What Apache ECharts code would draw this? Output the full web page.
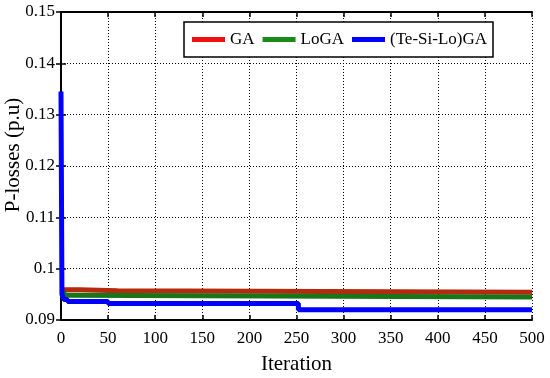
<!DOCTYPE html>
<html><head><meta charset="utf-8">
<script src="https://cdn.jsdelivr.net/npm/echarts@6/dist/echarts.min.js"></script>
<style>html,body{margin:0;padding:0;background:#fff}#c{width:550px;height:378px}</style>
</head><body><div id="c"></div>
<script>
const seriesNames = ['GA', 'LoGA', '(Te-Si-Lo)GA'];
// step breakpoints: value holds from this iteration until the next breakpoint
const gaIter = [0, 20, 60, 500];
const gaVal = [0.0959, 0.0957, 0.0954, 0.0954];
const logaIter = [0, 3, 8, 500];
const logaVal = [0.0955, 0.0948, 0.0945, 0.0945];
const tsIter = [0, 1, 3, 7, 50, 252, 500];
const tsVal = [0.1345, 0.0950, 0.0940, 0.0936, 0.0932, 0.0920, 0.0920];
const xTicks = {min: 0, max: 500, interval: 50};
const yTicks = {min: 0.09, max: 0.15, interval: 0.01};

const font = 'Liberation Serif';
const lineColors = ['#b52a0c', '#1a751a', '#0000ff'];
const legendColors = ['#f01010', '#1a8a1a', '#0000ff'];
function pairs(xs, ys){ return xs.map((x,i)=>[x, ys[i]]); }
const chart = echarts.init(document.getElementById('c'));
const gridLine = {show:true, lineStyle:{color:'#000', type:[1,2], width:1}};
chart.setOption({
  animation:false,
  grid:{left:61, right:18, top:12, bottom:58, containLabel:false, outerBoundsMode:'none'},
  legend:{
    left:184, top:22, orient:'horizontal',
    backgroundColor:'#fff', borderColor:'#000', borderWidth:1.5, borderRadius:0,
    padding:[9,6,9,8], itemGap:8, itemWidth:33, itemHeight:5, icon:'rect',
    textStyle:{fontFamily:font, fontSize:17, color:'#000'},
    data: seriesNames.map((n,i)=>({name:n, itemStyle:{color:legendColors[i]}}))
  },
  xAxis:[{
    type:'value', min:xTicks.min, max:xTicks.max, interval:xTicks.interval,
    name:'Iteration', nameLocation:'middle', nameGap:34, nameMoveOverlap:false,
    nameTextStyle:{fontFamily:font, fontSize:21, color:'#000'},
    axisLine:{lineStyle:{color:'#000', width:2}},
    axisTick:{inside:true, length:5, lineStyle:{color:'#000', width:1.5}},
    axisLabel:{fontFamily:font, fontSize:17, color:'#000', margin:10},
    splitLine:gridLine
  },{
    type:'value', position:'top', min:xTicks.min, max:xTicks.max, interval:xTicks.interval,
    axisLine:{show:true, lineStyle:{color:'#000', width:2}},
    axisTick:{inside:true, length:5, lineStyle:{color:'#000', width:1.5}},
    axisLabel:{show:false}, splitLine:{show:false}
  }],
  yAxis:[{
    type:'value', min:yTicks.min, max:yTicks.max, interval:yTicks.interval,
    name:'P-losses (p.u)', nameLocation:'middle', nameGap:37, nameMoveOverlap:false,
    nameTextStyle:{fontFamily:font, fontSize:21, color:'#000', padding:[0,0,0,22]},
    axisLine:{show:true, lineStyle:{color:'#000', width:2}},
    axisTick:{show:true, inside:true, length:5, lineStyle:{color:'#000', width:1.5}},
    axisLabel:{fontFamily:font, fontSize:17, color:'#000', margin:6,
      formatter:v=>String(parseFloat(v.toFixed(2)))},
    splitLine:gridLine
  },{
    type:'value', position:'right', min:yTicks.min, max:yTicks.max, interval:yTicks.interval,
    axisLine:{show:true, lineStyle:{color:'#000', width:2}},
    axisTick:{show:true, inside:true, length:5, lineStyle:{color:'#000', width:1.5}},
    axisLabel:{show:false}, splitLine:{show:false}
  }],
  series:[
    {name:seriesNames[0], type:'line', step:'end', showSymbol:false, symbol:'none',
     data:pairs(gaIter, gaVal), color:lineColors[0], lineStyle:{width:5, color:lineColors[0]}},
    {name:seriesNames[1], type:'line', step:'end', showSymbol:false, symbol:'none',
     data:pairs(logaIter, logaVal), color:lineColors[1], lineStyle:{width:5, color:lineColors[1]}},
    {name:seriesNames[2], type:'line', step:'end', showSymbol:false, symbol:'none',
     data:pairs(tsIter, tsVal), color:lineColors[2], lineStyle:{width:5, color:lineColors[2]}}
  ]
});
</script></body></html>
